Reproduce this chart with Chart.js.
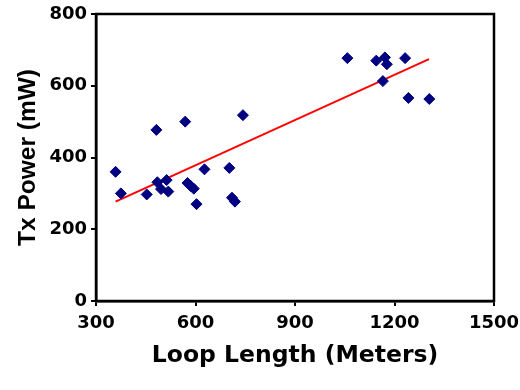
<!DOCTYPE html>
<html>
<head>
<meta charset="utf-8">
<script src="https://cdn.jsdelivr.net/npm/chart.js@4"></script>
<style>
  html, body { margin: 0; padding: 0; background: #ffffff; }
  #wrap { width: 520px; height: 390px; }
</style>
</head>
<body>
<div id="wrap"><canvas id="c" width="520" height="390"></canvas></div>
<script>
// Data
const loopLength = [359, 375, 453, 482, 485, 496, 513, 518, 569, 576, 586, 595, 603, 627, 702, 710, 719, 743,
                    1058, 1145, 1171, 1177, 1165, 1232, 1242, 1305];
const txPower    = [360, 300, 297, 477, 331, 312, 337, 305, 500, 329, 320, 313, 270, 367, 371, 288, 277, 518,
                    677, 670, 679, 660, 613, 677, 566, 563];
const trendX = [359, 1304];
const trendY = [277, 674];
const xTicks = [300, 600, 900, 1200, 1500];
const yTicks = [0, 200, 400, 600, 800];
const xTitle = 'Loop Length (Meters)';
const yTitle = 'Tx Power (mW)';

const points = loopLength.map((x, i) => ({ x: x, y: txPower[i] }));
const trend = trendX.map((x, i) => ({ x: x, y: trendY[i] }));

const frame = {
  id: 'frame',
  afterDraw(chart) {
    const { ctx, chartArea: a } = chart;
    ctx.save();
    ctx.strokeStyle = '#000000';
    ctx.lineWidth = 2.5;
    ctx.strokeRect(a.left, a.top, a.right - a.left, a.bottom - a.top);
    ctx.restore();
  }
};

const tickFont = { family: 'DejaVu Sans', weight: 'bold', size: 18 };

new Chart(document.getElementById('c'), {
  type: 'scatter',
  data: {
    datasets: [
      {
        label: 'trend',
        data: trend,
        showLine: true,
        borderColor: '#ff0000',
        borderWidth: 2,
        pointRadius: 0,
        fill: false,
        order: 2
      },
      {
        label: 'Tx Power',
        data: points,
        pointStyle: 'rectRot',
        pointRadius: 5.5,
        backgroundColor: '#000080',
        borderColor: '#000080',
        borderWidth: 1,
        order: 1
      }
    ]
  },
  plugins: [frame],
  options: {
    responsive: false,
    animation: false,
    events: [],
    layout: { padding: { top: 14, right: 26, left: 0, bottom: 0 } },
    plugins: { legend: { display: false }, tooltip: { enabled: false } },
    scales: {
      x: {
        type: 'linear',
        min: 300, max: 1500,
        afterBuildTicks: s => { s.ticks = xTicks.map(v => ({ value: v })); },
        afterFit: s => { s.height = 89; s.paddingLeft = 0; s.paddingRight = 0; },
        grid: { display: true, drawOnChartArea: false, drawTicks: true, tickLength: 5, color: '#000000', lineWidth: 2 },
        border: { display: true, color: '#000000', width: 2.5 },
        ticks: { color: '#000000', font: tickFont, padding: 7, maxRotation: 0, callback: v => String(v) },
        title: {
          display: true, text: xTitle, color: '#000000',
          font: { family: 'DejaVu Sans', weight: 'bold', size: 23.5 },
          padding: { top: 0, bottom: 20 }
        }
      },
      y: {
        type: 'linear',
        min: 0, max: 800,
        afterBuildTicks: s => { s.ticks = yTicks.map(v => ({ value: v })); },
        afterFit: s => { s.width = 96; s.paddingTop = 0; s.paddingBottom = 0; },
        grid: { display: true, drawOnChartArea: false, drawTicks: true, tickLength: 5, color: '#000000', lineWidth: 2 },
        border: { display: true, color: '#000000', width: 2.5 },
        ticks: { color: '#000000', font: tickFont, padding: 4, callback: v => String(v) },
        title: {
          display: true, text: yTitle, color: '#000000',
          font: { family: 'Liberation Sans', weight: 'bold', size: 24.5 },
          padding: { top: 14, bottom: 0 }
        }
      }
    }
  }
});
</script>
</body>
</html>
